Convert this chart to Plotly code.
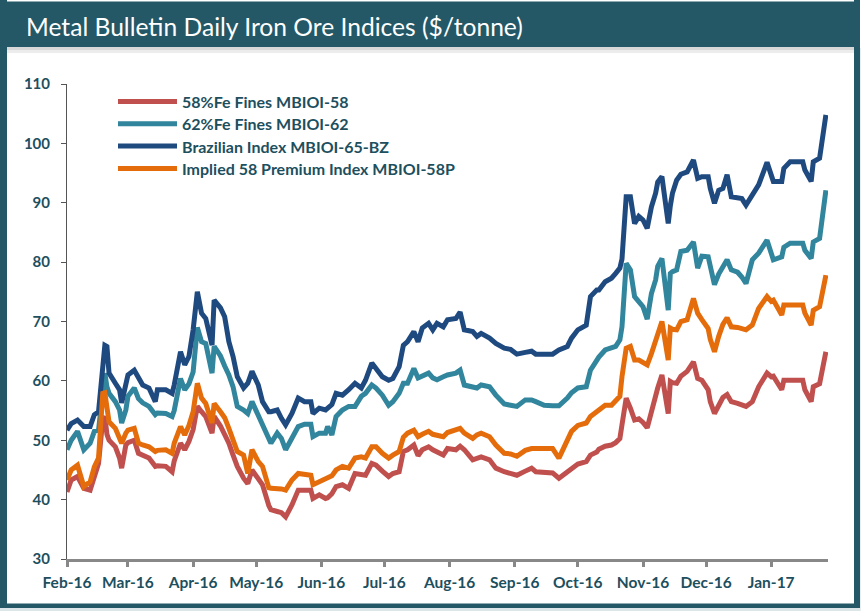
import plotly.graph_objects as go

dates = [
    "2016-02-01", "2016-02-03", "2016-02-06", "2016-02-09", "2016-02-12", "2016-02-14", "2016-02-16", "2016-02-18",
    "2016-02-19", "2016-02-20", "2016-02-21", "2016-02-24", "2016-02-26", "2016-02-27", "2016-02-29", "2016-03-01",
    "2016-03-04", "2016-03-06", "2016-03-08", "2016-03-11", "2016-03-14", "2016-03-15", "2016-03-19", "2016-03-22",
    "2016-03-23", "2016-03-26", "2016-03-28", "2016-03-30", "2016-04-01", "2016-04-03", "2016-04-05", "2016-04-07",
    "2016-04-10", "2016-04-11", "2016-04-14", "2016-04-16", "2016-04-18", "2016-04-20", "2016-04-22", "2016-04-25",
    "2016-04-27", "2016-04-29", "2016-05-02", "2016-05-04", "2016-05-07", "2016-05-08", "2016-05-11", "2016-05-13",
    "2016-05-15", "2016-05-18", "2016-05-21", "2016-05-24", "2016-05-27", "2016-05-28", "2016-05-31", "2016-06-03",
    "2016-06-04", "2016-06-06", "2016-06-08", "2016-06-11", "2016-06-14", "2016-06-17", "2016-06-20", "2016-06-22",
    "2016-06-25", "2016-06-27", "2016-06-30", "2016-07-03", "2016-07-05", "2016-07-08", "2016-07-10", "2016-07-12",
    "2016-07-15", "2016-07-17", "2016-07-19", "2016-07-22", "2016-07-24", "2016-07-26", "2016-07-29", "2016-07-31",
    "2016-08-04", "2016-08-06", "2016-08-08", "2016-08-12", "2016-08-14", "2016-08-16", "2016-08-20", "2016-08-23",
    "2016-08-27", "2016-08-30", "2016-09-02", "2016-09-06", "2016-09-09", "2016-09-11", "2016-09-15", "2016-09-19",
    "2016-09-22", "2016-09-26", "2016-09-28", "2016-10-01", "2016-10-05", "2016-10-07", "2016-10-10", "2016-10-11",
    "2016-10-14", "2016-10-17", "2016-10-19", "2016-10-21", "2016-10-22", "2016-10-24", "2016-10-26", "2016-10-28",
    "2016-10-30", "2016-11-01", "2016-11-03", "2016-11-05", "2016-11-07", "2016-11-08", "2016-11-10", "2016-11-13",
    "2016-11-14", "2016-11-15", "2016-11-17", "2016-11-19", "2016-11-22", "2016-11-25", "2016-11-27", "2016-11-29",
    "2016-12-02", "2016-12-03", "2016-12-05", "2016-12-07", "2016-12-09", "2016-12-11", "2016-12-13", "2016-12-16",
    "2016-12-18", "2016-12-20", "2016-12-23", "2016-12-26", "2016-12-30", "2017-01-01", "2017-01-02", "2017-01-06",
    "2017-01-07", "2017-01-10", "2017-01-16", "2017-01-17", "2017-01-20", "2017-01-21", "2017-01-24", "2017-01-27",
]

fe58 = [
    41.3, 43.3, 43.9, 41.9, 41.6, 43.9, 46.1, 53.5, 54.0, 51.0, 50.0, 48.9, 47.0, 45.3, 49.2, 49.6,
    50.0, 47.8, 47.4, 47.0, 45.6, 45.7, 45.6, 44.7, 46.5, 49.5, 48.4, 49.8, 51.8, 55.7, 54.8, 54.0,
    51.2, 54.0, 52.4, 51.0, 49.5, 47.5, 45.6, 43.6, 42.7, 45.0, 43.3, 42.5, 39.0, 38.3, 38.0, 37.8,
    37.1, 39.1, 41.6, 41.6, 41.6, 40.2, 40.8, 40.2, 40.3, 41.0, 42.2, 42.5, 41.9, 44.4, 44.1, 44.1,
    46.1, 45.8, 44.8, 43.9, 44.4, 44.7, 48.1, 48.4, 49.2, 47.4, 48.4, 48.9, 48.4, 48.0, 47.5, 48.6,
    48.4, 49.0, 48.4, 46.7, 47.0, 47.2, 46.7, 45.3, 44.7, 44.5, 44.1, 44.8, 45.3, 44.7, 44.5, 44.5,
    43.6, 44.7, 45.3, 46.0, 46.4, 47.5, 48.0, 48.5, 49.0, 49.2, 49.6, 50.3, 52.6, 57.1, 55.4, 53.4,
    53.6, 53.0, 52.1, 55.1, 57.5, 58.8, 61.0, 54.5, 59.9, 59.7, 59.6, 60.8, 61.6, 63.2, 60.4, 60.1,
    58.5, 56.5, 54.5, 56.0, 57.2, 57.7, 56.5, 56.2, 56.0, 55.7, 56.5, 59.0, 61.3, 60.7, 60.8, 58.5,
    60.1, 60.1, 60.1, 58.5, 56.5, 59.0, 59.5, 64.9,
]

fe62 = [
    48.4, 50.0, 51.5, 48.4, 49.5, 51.5, 51.7, 58.0, 61.3, 59.0, 57.9, 56.5, 55.1, 52.9, 55.1, 57.4,
    58.8, 57.0, 56.3, 55.7, 54.3, 54.6, 54.5, 54.0, 55.0, 60.4, 58.5, 59.5, 61.5, 69.0, 66.6, 66.3,
    61.3, 65.8, 64.2, 62.5, 61.0, 59.0, 55.7, 55.1, 54.5, 56.5, 54.0, 52.6, 50.0, 49.5, 51.2, 50.3,
    48.4, 50.3, 52.3, 52.7, 52.7, 50.6, 51.2, 51.2, 52.3, 50.9, 54.0, 55.1, 55.7, 55.7, 57.4, 57.9,
    59.3, 58.8, 57.6, 55.9, 56.5, 57.9, 59.6, 59.6, 62.1, 60.5, 60.8, 61.3, 60.5, 60.2, 60.7, 61.0,
    61.3, 61.8, 59.3, 59.0, 58.8, 59.3, 59.0, 57.6, 56.1, 55.9, 55.7, 56.8, 56.8, 56.5, 55.9, 55.8,
    55.8, 57.1, 58.0, 58.8, 59.0, 61.8, 63.5, 64.0, 65.2, 65.5, 65.8, 66.9, 69.1, 79.8, 78.7, 74.2,
    73.4, 72.5, 70.4, 74.7, 77.0, 79.3, 80.6, 71.9, 78.1, 78.4, 78.7, 81.8, 82.0, 83.4, 79.0, 81.0,
    80.9, 79.0, 76.2, 78.0, 79.3, 80.4, 78.7, 78.3, 77.5, 76.4, 80.4, 81.5, 83.7, 81.8, 80.4, 80.9,
    82.5, 83.2, 83.2, 82.0, 80.6, 83.4, 84.0, 92.1,
]

brazil65 = [
    51.7, 52.8, 53.4, 52.3, 52.3, 54.3, 54.8, 61.8, 66.0, 65.8, 61.3, 59.6, 58.5, 56.3, 59.0, 61.0,
    61.8, 60.7, 59.3, 58.8, 56.5, 58.5, 58.5, 57.9, 59.3, 64.9, 62.7, 64.1, 68.6, 75.0, 71.4, 70.5,
    66.0, 73.6, 72.3, 70.8, 66.6, 64.1, 60.7, 58.8, 59.6, 61.6, 59.3, 56.5, 54.8, 54.8, 55.1, 53.7,
    52.6, 54.5, 57.1, 56.5, 56.5, 54.5, 55.4, 55.1, 55.5, 56.0, 57.9, 57.6, 58.5, 59.6, 58.8, 60.1,
    63.0, 62.1, 60.7, 60.1, 60.4, 62.4, 66.0, 66.6, 68.3, 66.6, 68.9, 69.7, 68.6, 69.7, 69.1, 70.3,
    70.5, 71.6, 68.6, 68.3, 67.5, 68.0, 67.2, 66.3, 65.5, 65.3, 64.5, 64.8, 65.0, 64.5, 64.5, 64.5,
    65.2, 65.8, 67.2, 68.6, 69.4, 74.2, 75.3, 75.3, 76.7, 77.3, 78.1, 79.0, 80.5, 91.0, 91.0, 86.5,
    87.7, 87.1, 85.7, 89.3, 91.6, 93.5, 94.4, 86.5, 89.5, 91.6, 93.8, 94.8, 95.2, 97.2, 94.1, 94.4,
    94.4, 92.4, 89.9, 92.1, 92.4, 94.7, 91.0, 90.7, 90.7, 89.6, 91.3, 93.0, 96.8, 94.4, 93.6, 93.6,
    95.8, 96.9, 96.9, 95.5, 93.6, 96.9, 97.5, 104.8,
]

premium58 = [
    43.3, 45.0, 45.8, 42.2, 43.0, 45.5, 47.0, 57.9, 58.0, 55.0, 53.1, 52.0, 50.5, 49.5, 51.2, 51.7,
    52.0, 49.5, 49.2, 48.9, 48.1, 48.3, 48.4, 47.8, 49.5, 52.3, 50.9, 52.5, 54.8, 59.6, 57.1, 56.2,
    52.9, 56.2, 54.8, 53.8, 52.0, 49.8, 48.1, 47.5, 44.4, 48.4, 46.4, 45.6, 42.0, 41.9, 41.9, 41.8,
    41.6, 43.3, 44.4, 44.3, 44.1, 42.5, 43.0, 43.5, 43.6, 44.0, 45.0, 45.6, 45.3, 47.0, 47.2, 47.0,
    48.9, 48.9, 47.8, 47.0, 47.5, 48.1, 50.5, 51.2, 51.7, 50.6, 51.0, 51.5, 51.0, 50.9, 50.6, 51.3,
    51.7, 52.0, 51.2, 50.3, 50.9, 51.2, 50.6, 49.2, 47.8, 47.7, 47.3, 48.3, 48.6, 48.6, 48.6, 48.6,
    47.0, 49.8, 51.5, 52.5, 52.9, 54.0, 54.8, 55.3, 55.9, 55.9, 56.6, 57.4, 60.7, 65.5, 65.8, 63.5,
    63.5, 63.0, 62.7, 64.6, 67.0, 68.2, 70.0, 63.5, 68.9, 68.7, 68.6, 70.0, 70.3, 73.9, 71.4, 70.3,
    68.8, 67.0, 64.9, 67.5, 69.5, 70.6, 69.1, 69.0, 68.8, 68.6, 69.4, 72.2, 74.2, 73.4, 73.6, 71.1,
    72.8, 72.8, 72.8, 71.4, 69.4, 71.9, 72.5, 77.8,
]

series_names = [
    "58%Fe Fines MBIOI-58",
    "62%Fe Fines MBIOI-62",
    "Brazilian Index MBIOI-65-BZ",
    "Implied 58 Premium Index MBIOI-58P",
]
series_values = [fe58, fe62, brazil65, premium58]
series_colors = ["#c0504d", "#31859c", "#1f4a80", "#e46c0a"]

title_text = "Metal Bulletin Daily Iron Ore Indices ($/tonne)"
x_range = ["2016-02-01", "2017-01-28"]
y_range = [30, 110]

W, H = 861, 611
L, R, T, B = 67, 33, 84, 52
PW, PH = W - L - R, H - T - B
TEAL = "#245867"
TXT = "#1d4f5e"
FONT = "Lato, 'Open Sans', sans-serif"


def px(xp):
    return (xp - L) / PW


def py(yp):
    return (H - B - yp) / PH


fig = go.Figure()
for name, vals, col in zip(series_names, series_values, series_colors):
    fig.add_trace(go.Scatter(
        x=dates, y=vals, name=name, mode="lines",
        line=dict(color=col, width=5),
        showlegend=False,
    ))

shapes = []
# outer light background strips outside the frame
shapes.append(dict(type="rect", xref="paper", yref="paper", x0=px(-5), x1=px(866), y0=py(616), y1=py(608),
                   fillcolor="#dce6e9", line_width=0, layer="below"))
shapes.append(dict(type="rect", xref="paper", yref="paper", x0=px(860), x1=px(866), y0=py(616), y1=py(48),
                   fillcolor="#e6eef0", line_width=0, layer="below"))
# shadow below title bar
shapes.append(dict(type="rect", xref="paper", yref="paper", x0=px(6), x1=px(855), y0=py(53), y1=py(47),
                   fillcolor="#ececec", line_width=0, layer="below"))
shapes.append(dict(type="rect", xref="paper", yref="paper", x0=px(6), x1=px(855), y0=py(50), y1=py(47),
                   fillcolor="#d8d8d8", line_width=0, layer="below"))
# frame pieces
for x0, x1, y0, y1 in [(0, 860, 1.5, 47), (0, 7, 0, 608), (854, 860, 0, 608), (0, 860, 603.5, 608)]:
    shapes.append(dict(type="rect", xref="paper", yref="paper", x0=px(x0), x1=px(x1), y0=py(y1), y1=py(y0),
                       fillcolor=TEAL, line_width=0, layer="above"))

annotations = [dict(
    text=title_text, xref="paper", yref="paper", x=px(24), y=py(27),
    xanchor="left", yanchor="middle", showarrow=False,
    font=dict(family=FONT, size=24.6, color="white"),
)]

# manual legend (long line samples as in the original)
for i, (name, col) in enumerate(zip(series_names, series_colors)):
    yrow = 101.5 + i * 22.3
    shapes.append(dict(type="line", xref="paper", yref="paper", x0=px(118), x1=px(177), y0=py(yrow), y1=py(yrow),
                       line=dict(color=col, width=5)))
    annotations.append(dict(
        text=name, xref="paper", yref="paper", x=px(180), y=py(yrow),
        xanchor="left", yanchor="middle", showarrow=False,
        font=dict(family=FONT, size=16, color=TXT, weight="bold"),
    ))

fig.update_layout(
    width=W, height=H,
    margin=dict(l=L, r=R, t=T, b=B, autoexpand=False),
    paper_bgcolor="white", plot_bgcolor="white",
    showlegend=False,
    shapes=shapes, annotations=annotations,
    font=dict(family=FONT, color=TXT),
    xaxis=dict(
        type="date", range=x_range, dtick="M1", tick0="2016-02-01", tickformat="%b-%y",
        showgrid=False, zeroline=False,
        showline=True, linecolor="#888888", linewidth=3,
        ticks="outside", ticklen=5, tickwidth=3, tickcolor="#888888",
        tickfont=dict(family=FONT, size=15.5, color=TXT, weight="bold"),
        ticklabelstandoff=2,
    ),
    yaxis=dict(
        range=y_range, dtick=10, showgrid=False, zeroline=False,
        showline=True, linecolor="#555555", linewidth=1,
        ticks="outside", ticklen=5, tickwidth=1, tickcolor="#555555",
        tickfont=dict(family=FONT, size=15, color=TXT, weight="bold"),
        ticklabelstandoff=8,
    ),
)

fig.write_html(
    "out.html",
    config={"displayModeBar": False},
    post_script="document.body.style.margin='0';document.body.style.overflow='hidden';",
)
